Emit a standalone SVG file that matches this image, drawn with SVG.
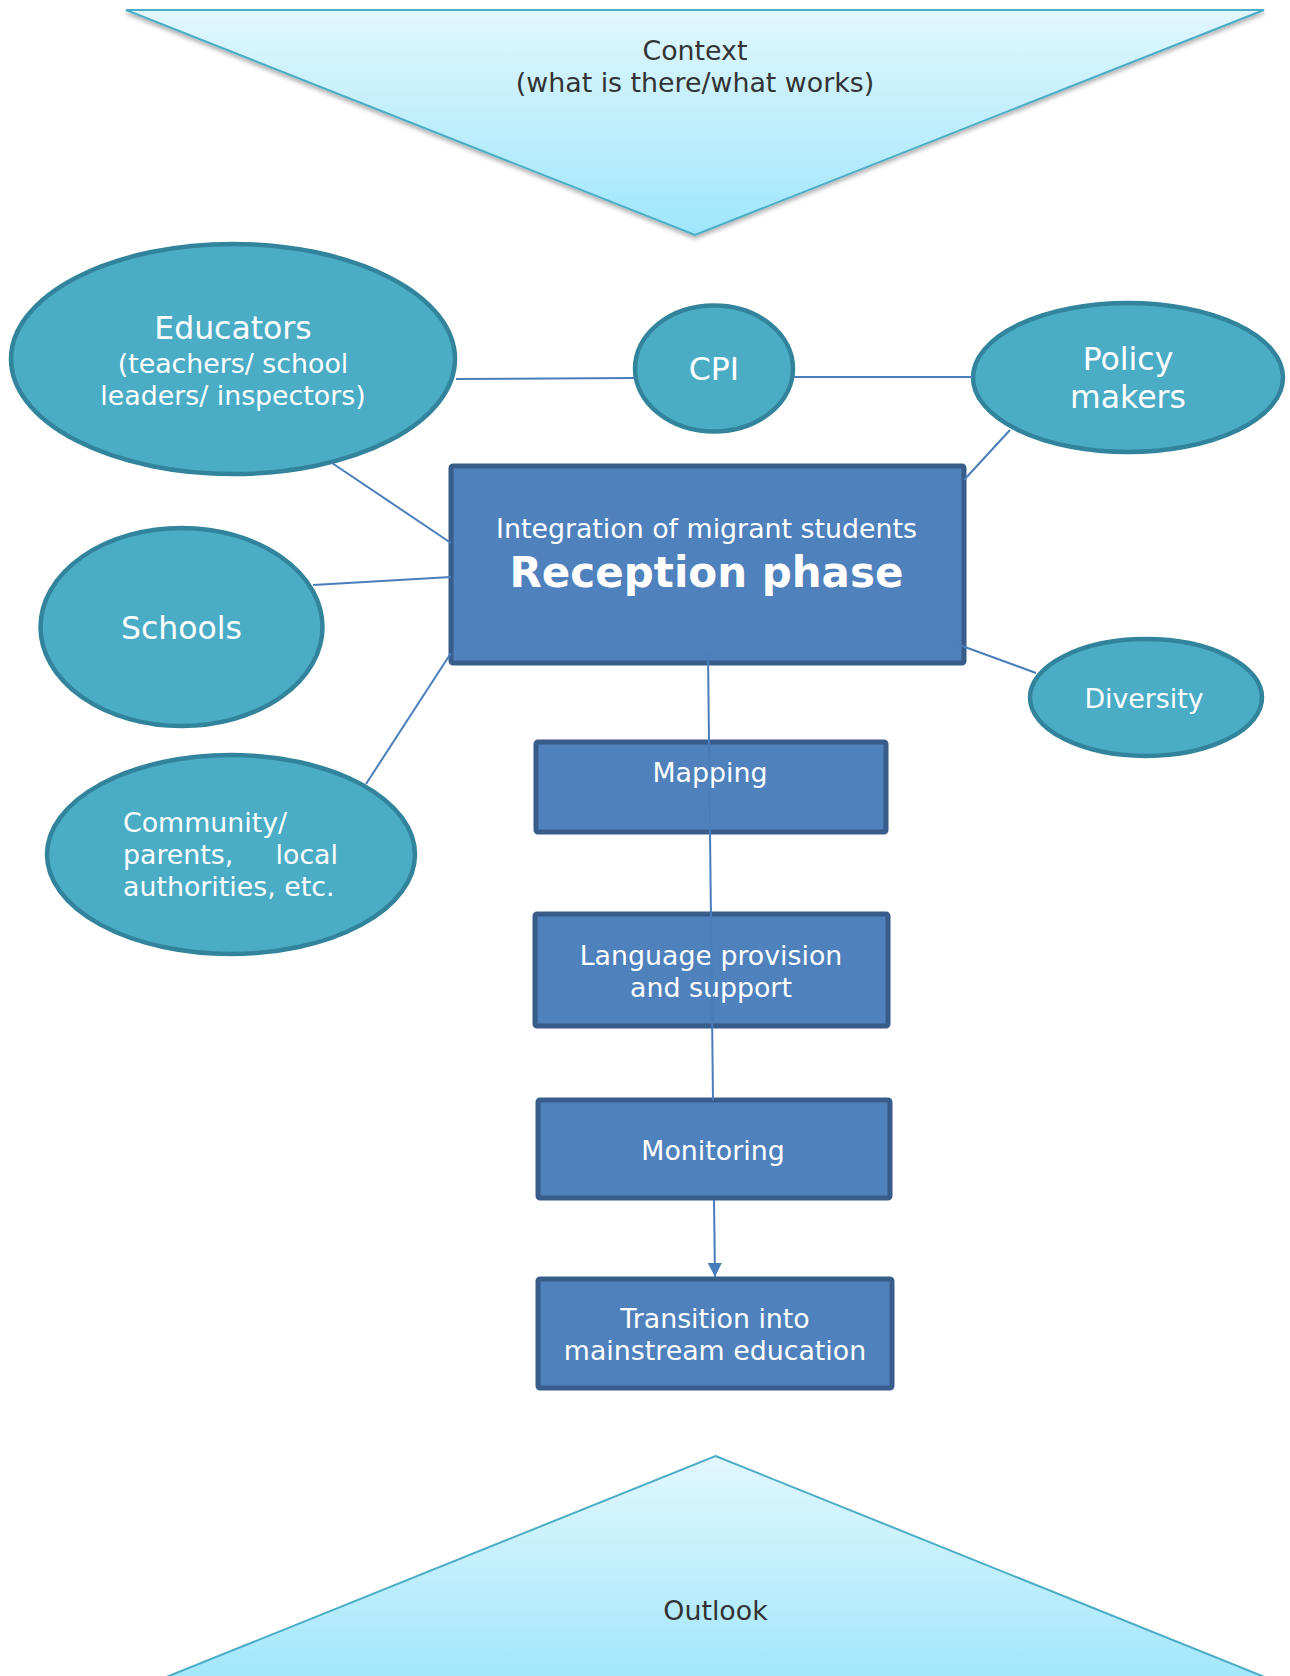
<svg xmlns="http://www.w3.org/2000/svg" width="1290" height="1676" viewBox="0 0 1290 1676">
<defs>
<linearGradient id="tri" x1="0" y1="0" x2="0" y2="1">
<stop offset="0" stop-color="#E1F7FD"/>
<stop offset="1" stop-color="#9FE6FB"/>
</linearGradient>
<filter id="sh" x="-5%" y="-5%" width="110%" height="120%">
<feDropShadow dx="0" dy="3" stdDeviation="2" flood-color="#000" flood-opacity="0.3"/>
</filter>
<marker id="arr" markerWidth="16" markerHeight="14" refX="14" refY="7" orient="auto" markerUnits="userSpaceOnUse">
<path d="M0,0 L14,7 L0,14 Z" fill="#4A7EBB"/>
</marker>
<style>
.tri{fill:url(#tri);stroke:#4BACC6;stroke-width:2}
.ell{fill:#4BACC6;stroke:#31849B;stroke-width:4.5}
.box{fill:#4F81BD;stroke:#385D8A;stroke-width:5}
.t{font-family:"DejaVu Sans","Liberation Sans",sans-serif;fill:#FFFFFF;text-anchor:middle}
.dk{font-family:"DejaVu Sans","Liberation Sans",sans-serif;fill:#333333;text-anchor:middle;font-size:26.8px}
.s26{font-size:26.8px}
.s31{font-size:31.5px}
.conn{stroke:#4A7EBB;stroke-width:2;fill:none}
</style>
</defs>

<g id="context">
<polygon class="tri" filter="url(#sh)" points="126,10 1264,10 695,235"/>
<text class="dk" x="695" y="60">Context</text>
<text class="dk" x="695" y="92">(what is there/what works)</text>
</g>

<g id="outlook">
<polygon class="tri" points="715.5,1456 1297,1690 134,1690"/>
<text class="dk" x="715.5" y="1620">Outlook</text>
</g>

<g id="educators">
<ellipse class="ell" cx="233" cy="359" rx="222" ry="115"/>
<text class="t s31" x="233" y="339">Educators</text>
<text class="t s26" x="233" y="373">(teachers/ school</text>
<text class="t s26" x="233" y="405">leaders/ inspectors)</text>
</g>

<g id="cpi">
<ellipse class="ell" cx="714" cy="368.5" rx="79" ry="63"/>
<text class="t s31" x="714" y="380">CPI</text>
</g>

<g id="policy">
<ellipse class="ell" cx="1128" cy="377.5" rx="155" ry="74.5"/>
<text class="t s31" x="1128" y="370">Policy</text>
<text class="t s31" x="1128" y="408">makers</text>
</g>

<g id="schools">
<ellipse class="ell" cx="181.5" cy="627" rx="141" ry="99"/>
<text class="t s31" x="181.5" y="639">Schools</text>
</g>

<g id="diversity">
<ellipse class="ell" cx="1146" cy="697.5" rx="116" ry="58.5"/>
<text class="t s26" x="1144" y="708">Diversity</text>
</g>

<g id="community">
<ellipse class="ell" cx="231" cy="854.5" rx="184" ry="99.5"/>
<text class="t s26" x="123" y="832" style="text-anchor:start">Community/</text>
<text class="t s26" x="123" y="864" style="text-anchor:start">parents,</text>
<text class="t s26" x="338" y="864" style="text-anchor:end">local</text>
<text class="t s26" x="123" y="896" style="text-anchor:start">authorities, etc.</text>
</g>

<g id="reception">
<rect class="box" x="451" y="466" width="513" height="197" rx="2"/>
<text class="t s26" x="706.5" y="538">Integration of migrant students</text>
<text class="t" x="706.5" y="587" font-size="42" font-weight="bold">Reception phase</text>
</g>

<g id="mapping">
<rect class="box" x="536" y="742" width="350" height="90" rx="2"/>
<text class="t s26" x="710" y="782">Mapping</text>
</g>

<g id="language">
<rect class="box" x="535" y="914" width="353" height="112" rx="2"/>
<text class="t s26" x="711" y="965">Language provision</text>
<text class="t s26" x="711" y="997">and support</text>
</g>

<g id="monitoring">
<rect class="box" x="538" y="1100" width="352" height="98" rx="2"/>
<text class="t s26" x="713" y="1160">Monitoring</text>
</g>

<g id="transition">
<rect class="box" x="538" y="1279" width="354" height="109" rx="2"/>
<text class="t s26" x="715" y="1328">Transition into</text>
<text class="t s26" x="715" y="1360">mainstream education</text>
</g>

<g id="connectors">
<line class="conn" x1="456" y1="379" x2="635" y2="378"/>
<line class="conn" x1="794" y1="377" x2="973" y2="377"/>
<line class="conn" x1="332" y1="463" x2="451" y2="543"/>
<line class="conn" x1="313" y1="585" x2="451" y2="577"/>
<line class="conn" x1="451" y1="653" x2="366" y2="784"/>
<line class="conn" x1="1010" y1="430" x2="964" y2="480"/>
<line class="conn" x1="954" y1="643" x2="1036" y2="673"/>
<line class="conn" x1="708" y1="652" x2="713" y2="1100"/>
<line class="conn" x1="714" y1="1200" x2="715" y2="1277" marker-end="url(#arr)"/>
</g>
</svg>
